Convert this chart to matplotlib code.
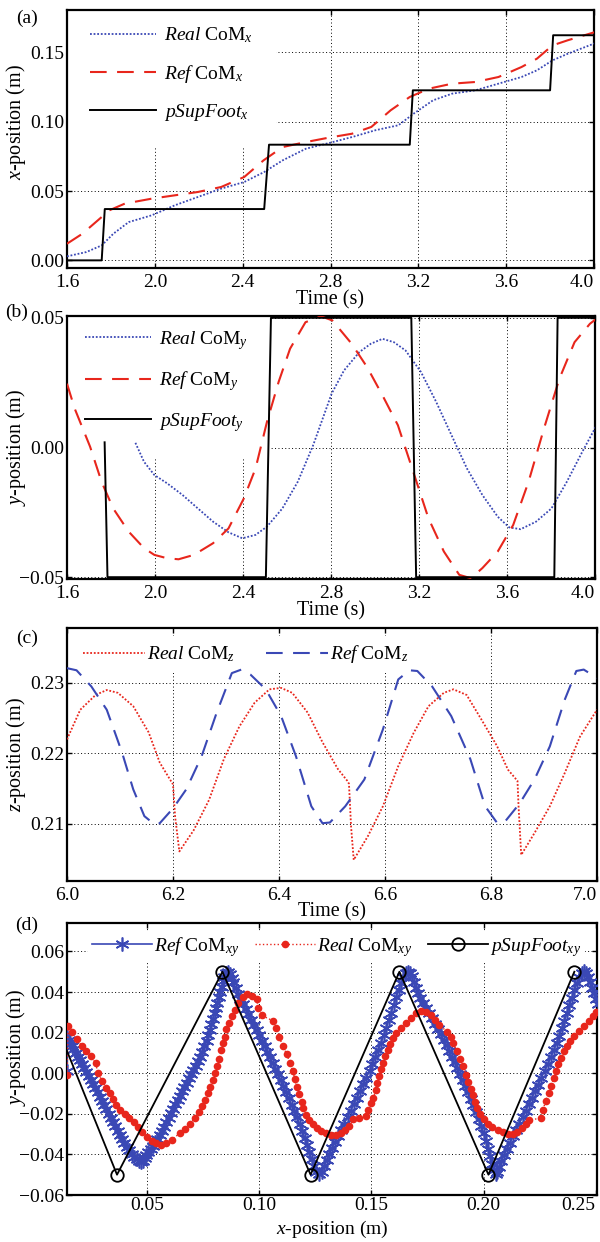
import numpy as np
import matplotlib
matplotlib.use("Agg")
import matplotlib.pyplot as plt
from matplotlib.ticker import FuncFormatter, MultipleLocator

plt.rcParams['font.family'] = ['Liberation Serif', 'DejaVu Serif']
plt.rcParams['mathtext.fontset'] = 'custom'
plt.rcParams['mathtext.rm'] = 'Liberation Serif'
plt.rcParams['mathtext.it'] = 'Liberation Serif:italic'
plt.rcParams['mathtext.bf'] = 'Liberation Serif:bold'
plt.rcParams['font.size'] = 14

RED = '#e8261c'
BLUE = '#3a48b5'

# ---- (a) x-position over time
real_x_t = [1.600, 1.688, 1.758, 1.811, 1.881, 1.986, 2.091, 2.196, 2.302, 2.407, 2.498, 2.582, 2.688, 2.793,
            2.898, 3.004, 3.109, 3.179, 3.267, 3.354, 3.460, 3.565, 3.670, 3.740, 3.811, 3.881, 4.007]
real_x = [0.0029, 0.0060, 0.0108, 0.0192, 0.0276, 0.0325, 0.0397, 0.0457, 0.0517, 0.0565, 0.0637, 0.0721, 0.0805,
          0.0846, 0.0889, 0.0938, 0.0974, 0.1058, 0.1154, 0.1202, 0.1226, 0.1274, 0.1322, 0.1370, 0.1442, 0.1490, 0.1567]
ref_x_t = [1.600, 1.670, 1.740, 1.793, 1.863, 1.986, 2.091, 2.196, 2.302, 2.407, 2.495, 2.582, 2.688, 2.793,
           2.898, 2.986, 3.074, 3.161, 3.249, 3.354, 3.460, 3.565, 3.670, 3.740, 3.811, 3.881, 4.007]
ref_x = [0.0120, 0.0192, 0.0288, 0.0361, 0.0409, 0.0445, 0.0469, 0.0493, 0.0529, 0.0601, 0.0721, 0.0817, 0.0853,
         0.0885, 0.0913, 0.0962, 0.1082, 0.1178, 0.1238, 0.1274, 0.1286, 0.1322, 0.1394, 0.1454, 0.1550, 0.1587, 0.1647]
foot_x_t = [1.600, 1.758, 1.772, 2.498, 2.520, 3.161, 3.175, 3.800, 3.814, 4.010]
foot_x = [0.0, 0.0, 0.0370, 0.0370, 0.0834, 0.0834, 0.1226, 0.1226, 0.1623, 0.1623]

# ---- (b) y-position over time
real_y_t = [1.911, 1.950, 1.997, 2.055, 2.125, 2.195, 2.264, 2.334, 2.397, 2.457, 2.509, 2.579, 2.649, 2.719,
            2.803, 2.859, 2.929, 2.981, 3.034, 3.086, 3.139, 3.209, 3.278, 3.348, 3.418, 3.488, 3.558, 3.610,
            3.662, 3.732, 3.802, 3.872, 3.942, 4.016]
real_y = [0.0018, -0.0055, -0.0106, -0.0138, -0.0183, -0.0235, -0.0286, -0.0327, -0.0350, -0.0337, -0.0305,
          -0.0235, -0.0132, 0.0009, 0.0208, 0.0297, 0.0368, 0.0400, 0.0419, 0.0406, 0.0374, 0.0291, 0.0176,
          0.0047, -0.0081, -0.0183, -0.0267, -0.0308, -0.0315, -0.0286, -0.0235, -0.0132, -0.0017, 0.0099]
ref_y_t = [1.600, 1.635, 1.705, 1.757, 1.810, 1.880, 1.950, 1.997, 2.055, 2.107, 2.177, 2.264, 2.334, 2.404,
           2.457, 2.509, 2.562, 2.614, 2.684, 2.754, 2.806, 2.894, 2.964, 3.034, 3.104, 3.174, 3.243, 3.313,
           3.383, 3.436, 3.488, 3.558, 3.628, 3.698, 3.768, 3.838, 3.907, 3.977, 4.016]
ref_y = [0.0246, 0.0150, 0.0003, -0.0132, -0.0235, -0.0324, -0.0388, -0.0414, -0.0427, -0.0431, -0.0414,
         -0.0369, -0.0312, -0.0196, -0.0081, 0.0099, 0.0253, 0.0381, 0.0483, 0.0506, 0.0490, 0.0400, 0.0310,
         0.0201, 0.0086, -0.0094, -0.0273, -0.0401, -0.0491, -0.0504, -0.0465, -0.0401, -0.0299, -0.0132,
         0.0073, 0.0265, 0.0406, 0.0477, 0.0503]
foot_y_t = [1.771, 1.784, 2.504, 2.527, 3.165, 3.187, 3.815, 3.830, 4.020]
foot_y = [0.002, -0.05, -0.05, 0.05, 0.05, -0.05, -0.05, 0.05, 0.05]

# ---- (c) z-position over time
real_z_t = [6.000, 6.025, 6.054, 6.075, 6.096, 6.125, 6.154, 6.175, 6.196, 6.200, 6.204, 6.212, 6.239, 6.268,
            6.296, 6.325, 6.354, 6.382, 6.404, 6.425, 6.454, 6.482, 6.511, 6.529, 6.532, 6.536, 6.541, 6.568,
            6.596, 6.625, 6.654, 6.682, 6.711, 6.729, 6.754, 6.782, 6.811, 6.832, 6.850, 6.852, 6.857, 6.882,
            6.911, 6.939, 6.968, 7.000]
real_z = [0.2220, 0.2262, 0.2283, 0.2290, 0.2286, 0.2267, 0.2230, 0.2187, 0.2161, 0.2156, 0.2110, 0.2061,
          0.2091, 0.2134, 0.2192, 0.2238, 0.2272, 0.2291, 0.2293, 0.2286, 0.2258, 0.2216, 0.2178, 0.2161,
          0.2157, 0.2096, 0.2049, 0.2083, 0.2125, 0.2182, 0.2229, 0.2267, 0.2286, 0.2291, 0.2283, 0.2248,
          0.2211, 0.2177, 0.2161, 0.2125, 0.2056, 0.2087, 0.2125, 0.2172, 0.2224, 0.2262]
ref_z_t = [6.000, 6.018, 6.046, 6.075, 6.104, 6.125, 6.146, 6.164, 6.175, 6.200, 6.225, 6.254, 6.282, 6.311,
           6.329, 6.346, 6.375, 6.404, 6.432, 6.461, 6.482, 6.496, 6.525, 6.561, 6.596, 6.625, 6.646, 6.661,
           6.689, 6.725, 6.761, 6.789, 6.811, 6.825, 6.854, 6.882, 6.911, 6.939, 6.961, 6.975, 7.000]
ref_z = [0.2321, 0.2318, 0.2295, 0.2262, 0.2201, 0.2149, 0.2111, 0.2100, 0.2101, 0.2122, 0.2149, 0.2196,
         0.2257, 0.2314, 0.2319, 0.2312, 0.2291, 0.2253, 0.2196, 0.2125, 0.2101, 0.2102, 0.2125, 0.2163,
         0.2234, 0.2305, 0.2318, 0.2317, 0.2295, 0.2253, 0.2192, 0.2125, 0.2102, 0.2102, 0.2129, 0.2163,
         0.2210, 0.2276, 0.2317, 0.2319, 0.2307]

# ---- (d) xy path
ref_xy_x = [0.0143, 0.0143, 0.0150, 0.0158, 0.0166, 0.0175, 0.0184, 0.0193, 0.0202, 0.0211, 0.0220, 0.0229,
            0.0239, 0.0249, 0.0259, 0.0269, 0.0279, 0.0289, 0.0299, 0.0309, 0.0319, 0.0329, 0.0339, 0.0349,
            0.0359, 0.0369, 0.0379, 0.0389, 0.0399, 0.0410, 0.0421, 0.0432, 0.0443, 0.0454, 0.0464, 0.0473, 0.0481,
            0.0489, 0.0497, 0.0506, 0.0516, 0.0526, 0.0536, 0.0546, 0.0556, 0.0566, 0.0576, 0.0586, 0.0596,
            0.0606, 0.0616, 0.0626, 0.0636, 0.0646, 0.0656, 0.0666, 0.0676, 0.0686, 0.0696, 0.0706, 0.0716,
            0.0726, 0.0736, 0.0746, 0.0756, 0.0765, 0.0773, 0.0780, 0.0787, 0.0794, 0.0801, 0.0808, 0.0814,
            0.0820, 0.0826, 0.0832, 0.0838, 0.0845, 0.0853, 0.0862, 0.0871, 0.0878,
            0.0884, 0.0895, 0.0905, 0.0916, 0.0928, 0.0940, 0.0952, 0.0964, 0.0976, 0.0988, 0.1000, 0.1012,
            0.1024, 0.1036, 0.1048, 0.1060, 0.1072, 0.1084, 0.1096, 0.1108, 0.1120, 0.1132, 0.1144, 0.1156,
            0.1168, 0.1180, 0.1192, 0.1203, 0.1214, 0.1224, 0.1234, 0.1244, 0.1255, 0.1266,
            0.1278, 0.1290, 0.1300, 0.1312, 0.1325, 0.1338, 0.1352, 0.1366, 0.1380, 0.1394, 0.1408, 0.1422,
            0.1436, 0.1450, 0.1464, 0.1478, 0.1492, 0.1505, 0.1518, 0.1531, 0.1543, 0.1555, 0.1566, 0.1577,
            0.1588, 0.1599, 0.1610, 0.1621, 0.1632, 0.1643, 0.1655, 0.1665, 0.1672, 0.1680,
            0.1688, 0.1698, 0.1708, 0.1719, 0.1731, 0.1744, 0.1757, 0.1770, 0.1783, 0.1796, 0.1809, 0.1822,
            0.1835, 0.1847, 0.1859, 0.1871, 0.1883, 0.1895, 0.1907, 0.1919, 0.1931, 0.1943, 0.1955, 0.1967,
            0.1979, 0.1990, 0.2001, 0.2011, 0.2021, 0.2030, 0.2038, 0.2046, 0.2054,
            0.2062, 0.2070, 0.2080, 0.2092, 0.2105, 0.2118, 0.2132, 0.2146, 0.2160, 0.2174, 0.2188, 0.2202,
            0.2216, 0.2230, 0.2244, 0.2258, 0.2272, 0.2286, 0.2300, 0.2313, 0.2326, 0.2338, 0.2350, 0.2361,
            0.2372, 0.2383, 0.2394, 0.2405, 0.2416, 0.2427, 0.2438, 0.2449,
            0.2458, 0.2466, 0.2475, 0.2484, 0.2494, 0.2503, 0.2512]
ref_xy_y = [0.0010, 0.0176, 0.0163, 0.0148, 0.0133, 0.0117, 0.0100, 0.0082, 0.0064, 0.0045, 0.0026, 0.0007,
            -0.0013, -0.0033, -0.0053, -0.0073, -0.0094, -0.0115, -0.0136, -0.0157, -0.0178, -0.0199, -0.0220,
            -0.0241, -0.0262, -0.0283, -0.0304, -0.0324, -0.0343, -0.0362, -0.0380, -0.0396, -0.0411, -0.0424,
            -0.0434, -0.0438, -0.0432,
            -0.0420, -0.0405, -0.0390, -0.0374, -0.0358, -0.0341, -0.0323, -0.0305, -0.0285, -0.0263, -0.0241,
            -0.0219, -0.0197, -0.0175, -0.0153, -0.0131, -0.0110, -0.0089, -0.0068, -0.0047, -0.0026, -0.0005,
            0.0016, 0.0037, 0.0058, 0.0082, 0.0106, 0.0132, 0.0160, 0.0188, 0.0215, 0.0242, 0.0269, 0.0295,
            0.0322, 0.0348, 0.0375, 0.0401, 0.0427, 0.0452, 0.0476, 0.0494, 0.0500, 0.0488, 0.0468,
            0.0449, 0.0420, 0.0392, 0.0365, 0.0340, 0.0315, 0.0290, 0.0264, 0.0238, 0.0212, 0.0186, 0.0160,
            0.0133, 0.0106, 0.0078, 0.0050, 0.0022, -0.0006, -0.0035, -0.0064, -0.0094, -0.0124, -0.0155,
            -0.0186, -0.0218, -0.0250, -0.0284, -0.0318, -0.0353, -0.0389, -0.0425, -0.0458, -0.0485, -0.0498,
            -0.0485, -0.0458, -0.0430, -0.0400, -0.0370, -0.0340, -0.0310, -0.0280, -0.0248, -0.0216, -0.0184,
            -0.0152, -0.0120, -0.0088, -0.0055, -0.0022, 0.0012, 0.0046, 0.0080, 0.0114, 0.0150, 0.0186,
            0.0222, 0.0260, 0.0298, 0.0336, 0.0374, 0.0410, 0.0444, 0.0474, 0.0495, 0.0500, 0.0492, 0.0478,
            0.0449, 0.0422, 0.0396, 0.0370, 0.0345, 0.0320, 0.0295, 0.0270, 0.0244, 0.0218, 0.0192, 0.0165,
            0.0138, 0.0110, 0.0082, 0.0054, 0.0025, -0.0004, -0.0034, -0.0064, -0.0095, -0.0126, -0.0158,
            -0.0191, -0.0225, -0.0260, -0.0296, -0.0333, -0.0371, -0.0410, -0.0447, -0.0478, -0.0496,
            -0.0488, -0.0462, -0.0432, -0.0402, -0.0372, -0.0342, -0.0311, -0.0280, -0.0248, -0.0216, -0.0184,
            -0.0152, -0.0120, -0.0088, -0.0056, -0.0023, 0.0010, 0.0044, 0.0078, 0.0113, 0.0148, 0.0184,
            0.0221, 0.0259, 0.0297, 0.0335, 0.0372, 0.0408, 0.0442, 0.0472, 0.0495, 0.0504,
            0.0494, 0.0475, 0.0450, 0.0422, 0.0395, 0.0368, 0.0342]
real_xy_x = [0.0143, 0.0148, 0.0167, 0.0188, 0.0210, 0.0229, 0.0250, 0.0271, 0.0281, 0.0301, 0.0319, 0.0333,
             0.0348, 0.0363, 0.0381, 0.0400, 0.0420, 0.0441, 0.0460, 0.0479, 0.0500, 0.0520, 0.0542, 0.0564,
             0.0586, 0.0609, 0.0646, 0.0668, 0.0691, 0.0713, 0.0732, 0.0747, 0.0758, 0.0770, 0.0780, 0.0792,
             0.0802, 0.0813, 0.0822, 0.0831, 0.0840, 0.0847, 0.0854, 0.0865, 0.0877, 0.0890, 0.0906, 0.0926,
             0.0947, 0.0969, 0.0988,
             0.0996, 0.1011, 0.1063, 0.1075, 0.1089, 0.1104, 0.1122, 0.1137, 0.1149, 0.1159, 0.1167, 0.1179,
             0.1189, 0.1197, 0.1207, 0.1222, 0.1238, 0.1256, 0.1275, 0.1296, 0.1319, 0.1341, 0.1363, 0.1384,
             0.1402, 0.1420, 0.1447, 0.1476, 0.1487, 0.1499, 0.1509, 0.1520, 0.1527, 0.1536, 0.1543, 0.1554,
             0.1563, 0.1572, 0.1584, 0.1595, 0.1610, 0.1631, 0.1653, 0.1676, 0.1698, 0.1720, 0.1743, 0.1764,
             0.1783, 0.1801,
             0.1839, 0.1854, 0.1866, 0.1881, 0.1896, 0.1908, 0.1923, 0.1933, 0.1944, 0.1953, 0.1962, 0.1973,
             0.1985, 0.2000, 0.2020, 0.2040, 0.2063, 0.2085, 0.2107, 0.2130, 0.2150, 0.2170, 0.2188, 0.2201,
             0.2256, 0.2265, 0.2277, 0.2290, 0.2302, 0.2313, 0.2323, 0.2334, 0.2345, 0.2357, 0.2372, 0.2387,
             0.2405, 0.2426, 0.2446, 0.2469, 0.2488, 0.2503]
real_xy_y = [-0.0008, 0.0233, 0.0205, 0.0168, 0.0132, 0.0109, 0.0085, 0.0048, 0.0000, -0.0040, -0.0072, -0.0096,
             -0.0128, -0.0157, -0.0179, -0.0200, -0.0221, -0.0240, -0.0264, -0.0288, -0.0312, -0.0332, -0.0346,
             -0.0352, -0.0346, -0.0328, -0.0296, -0.0276, -0.0248, -0.0221, -0.0192, -0.0163, -0.0131, -0.0099,
             -0.0067, -0.0035, 0.0000, 0.0035, 0.0072, 0.0112, 0.0148, 0.0180, 0.0216, 0.0249, 0.0280, 0.0313,
             0.0345, 0.0377, 0.0390, 0.0382, 0.0366,
             0.0321, 0.0285, 0.0257, 0.0221, 0.0180, 0.0136, 0.0096, 0.0051, 0.0013, -0.0029, -0.0067, -0.0104,
             -0.0141, -0.0173, -0.0205, -0.0231, -0.0252, -0.0269, -0.0285, -0.0296, -0.0304, -0.0304, -0.0296,
             -0.0280, -0.0260, -0.0227, -0.0221, -0.0211, -0.0179, -0.0149, -0.0120, -0.0083, -0.0048, -0.0013,
             0.0019, 0.0051, 0.0083, 0.0115, 0.0144, 0.0172, 0.0196, 0.0224, 0.0249, 0.0273, 0.0295, 0.0308,
             0.0301, 0.0285, 0.0263, 0.0237,
             0.0205, 0.0176, 0.0148, 0.0107, 0.0072, 0.0035, -0.0008, -0.0045, -0.0077, -0.0109, -0.0141, -0.0173,
             -0.0202, -0.0227, -0.0248, -0.0264, -0.0279, -0.0292, -0.0301, -0.0300, -0.0290, -0.0272, -0.0250,
             -0.0232, -0.0221, -0.0179, -0.0139, -0.0099, -0.0061, -0.0024, 0.0011, 0.0045, 0.0077, 0.0107,
             0.0136, 0.0160, 0.0184, 0.0209, 0.0233, 0.0257, 0.0281, 0.0301]
foot_xy_x = [0.0, 0.0366, 0.0836, 0.1229, 0.1625, 0.2022, 0.2405]
foot_xy_y = [0.05, -0.05, 0.05, -0.05, 0.05, -0.05, 0.05]

time_ticks_ab = [1.6, 2.0, 2.4, 2.8, 3.2, 3.6, 4.0]
time_ticks_c = [6.0, 6.2, 6.4, 6.6, 6.8, 7.0]
xpos_ticks_d = [0.05, 0.10, 0.15, 0.20, 0.25]

W, H = 600, 1242
fig = plt.figure(figsize=(W / 100, H / 100), dpi=100)


def make_axes(top, bottom, left=67, right=597):
    return fig.add_axes([left / W, 1 - bottom / H, (right - left) / W, (bottom - top) / H])


def fmt(ndec):
    return FuncFormatter(lambda v, p: f"{v:.{ndec}f}".replace('-', '\u2212'))


def style(ax, xticks, ystep, xdec, ydec, xlabel, ylabel, xlab_y=-0.085, ylab_y=0.5, xpad=4, xlab_size=14.5):
    for s in ax.spines.values():
        s.set_linewidth(1.6)
    ax.set_xticks(xticks)
    ax.yaxis.set_major_locator(MultipleLocator(ystep))
    ax.xaxis.set_major_formatter(fmt(xdec))
    ax.yaxis.set_major_formatter(fmt(ydec))
    ax.tick_params(direction='in', length=3.6, width=1, top=True, right=True, labelsize=14)
    ax.tick_params(axis='y', pad=2)
    ax.tick_params(axis='x', pad=xpad)
    ax.grid(True, color='k', linestyle=(0, (1, 2.5)), linewidth=0.7)
    ax.set_xlabel(xlabel, fontsize=xlab_size)
    ax.set_ylabel(ylabel, fontsize=14.5)
    ax.xaxis.set_label_coords(0.5, xlab_y)
    ax.yaxis.set_label_coords(-0.074, ylab_y)
    # last x label sits against the right edge
    ax.get_xticklabels()[-1].set_horizontalalignment('right')


def add_legend(ax, **kw):
    leg = ax.legend(frameon=True, facecolor='white', edgecolor='none', framealpha=1, fancybox=False,
                    fontsize=14, **kw)
    leg.set_zorder(2.4)
    leg.get_frame().set_clip_box(ax.bbox)
    return leg


dot_ls = (0, (1, 1))
dash_ls = (0, (8, 5))

# (a)
ax = make_axes(10, 268, right=594)
ax.plot(real_x_t, real_x, color=BLUE, ls=dot_ls, lw=1.3, zorder=3, label=r'$\mathit{Real}$ CoM$_x$')
ax.plot(ref_x_t, ref_x, color=RED, ls=dash_ls, lw=1.5, zorder=3, label=r'$\mathit{Ref}$ CoM$_x$')
ax.plot(foot_x_t, foot_x, color='k', lw=1.4, zorder=3, label=r'$\mathit{pSupFoot}_x$')
ax.set_xlim(1.6, 4.0)
ax.set_ylim(-0.0055, 0.1805)
style(ax, time_ticks_ab, 0.05, 1, 2, 'Time (s)', r'$x$-position (m)', ylab_y=0.566)
add_legend(ax, loc='upper left', bbox_to_anchor=(0.0, 1.03), borderaxespad=0, borderpad=1.2,
           handlelength=3.4, handletextpad=0.4, labelspacing=0.9)

# (b)
ax = make_axes(316, 579, right=595)
ax.plot(real_y_t, real_y, color=BLUE, ls=dot_ls, lw=1.3, zorder=3, label=r'$\mathit{Real}$ CoM$_y$')
ax.plot(ref_y_t, ref_y, color=RED, ls=dash_ls, lw=1.5, zorder=3, label=r'$\mathit{Ref}$ CoM$_y$')
ax.plot(foot_y_t, foot_y, color='k', lw=1.4, zorder=3, label=r'$\mathit{pSupFoot}_y$')
ax.set_xlim(1.6, 4.0)
ax.set_ylim(-0.0507, 0.0507)
style(ax, time_ticks_ab, 0.05, 1, 2, 'Time (s)', r'$y$-position (m)')
add_legend(ax, loc='upper left', bbox_to_anchor=(-0.01, 1.04), borderaxespad=0, borderpad=1.2,
           handlelength=3.4, handletextpad=0.4, labelspacing=0.9)

# (c)
ax = make_axes(628, 881)
ax.plot(real_z_t, real_z, color=RED, ls=dot_ls, lw=1.3, zorder=3, label=r'$\mathit{Real}$ CoM$_z$')
ax.plot(ref_z_t, ref_z, color=BLUE, ls=dash_ls, lw=1.5, zorder=3, label=r'$\mathit{Ref}$ CoM$_z$')
ax.set_xlim(6.0, 7.0)
ax.set_ylim(0.2019, 0.2378)
style(ax, time_ticks_c, 0.01, 1, 2, 'Time (s)', r'$z$-position (m)')
add_legend(ax, loc='upper left', bbox_to_anchor=(0.015, 0.97), borderaxespad=0, borderpad=0.4, ncol=2,
           handlelength=3.2, handletextpad=0.1, columnspacing=1.6)

# (d)
ax = make_axes(923, 1195)
ax.plot(ref_xy_x, ref_xy_y, color=BLUE, ls='-', lw=1.2, marker=(6, 2, 0), ms=10, mew=1.2, zorder=3,
        label=r'$\mathit{Ref}$ CoM$_{xy}$')
ax.plot(real_xy_x, real_xy_y, color=RED, ls=':', lw=1.0, marker='o', ms=5.5, mew=0, zorder=3,
        label=r'$\mathit{Real}$ CoM$_{xy}$')
ax.plot(foot_xy_x, foot_xy_y, color='k', lw=1.3, marker='o', ms=9, mfc='none', mec='k', mew=1.3, zorder=4,
        label=r'$\mathit{pSupFoot}_{xy}$')
ax.set_xlim(0.0143, 0.2506)
ax.set_ylim(-0.06, 0.074)
style(ax, xpos_ticks_d, 0.02, 2, 2, r'$x$-position (m)', r'$y$-position (m)', xlab_y=-0.088, ylab_y=0.543,
      xpad=1.5, xlab_size=14)
add_legend(ax, loc='upper left', bbox_to_anchor=(0.04, 0.97), borderaxespad=0, borderpad=0.2, ncol=3,
           handlelength=3.1, handletextpad=0.1, columnspacing=0.8)

for tag, (px, py) in zip(['(a)', '(b)', '(c)', '(d)'], [(27, 18), (17, 312), (27, 638), (27, 925)]):
    fig.text(px / W, 1 - py / H, tag, fontsize=14, ha='center', va='center')

fig.savefig('out.png', dpi=100)
